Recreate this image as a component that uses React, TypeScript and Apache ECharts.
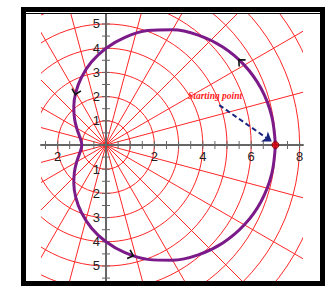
import React, { useEffect, useRef } from "react";
import * as echarts from "echarts";

// Axis ranges (data units)
const X_MIN = -2.686;
const X_MAX = 8.14;
const Y_MIN = -5.62;
const Y_MAX = 5.413;

// Curve: polar angle (deg) and radius
const curveAngles = [0, 10, 20, 30, 40, 50, 60, 70, 80, 90, 100, 110, 120, 130, 140, 150, 160, 170, 180,
  190, 200, 210, 220, 230, 240, 250, 260, 270, 280, 290, 300, 310, 320, 330, 340, 350, 360];
const curveRadii = [7.0, 6.95, 6.82, 6.6, 6.3, 5.93, 5.5, 5.03, 4.52, 4.0, 3.48, 2.97, 2.5, 2.07, 1.7, 1.4, 1.18, 1.05, 1.0,
  1.05, 1.18, 1.4, 1.7, 2.07, 2.5, 2.97, 3.48, 4.0, 4.52, 5.03, 5.5, 5.93, 6.3, 6.6, 6.82, 6.95, 7.0];

// Polar grid
const gridRadii = [1, 2, 3, 4, 5, 6, 7, 8, 9, 10, 11];
const radialAngles = [0, 15, 30, 45, 60, 75, 90, 105, 120, 135, 150, 165, 180, 195, 210, 225, 240, 255, 270, 285, 300, 315, 330, 345];

// Tick labels
const xLabelValues = [-2, 2, 4, 6, 8];
const yLabelValues = [-5, -4, -3, -2, -1, 1, 2, 3, 4, 5];
const TICK_STEP = 0.5;

// Direction arrows on the curve: polar angle, radius, travel direction (deg)
const arrowAngles = [120, 32, 283];
const arrowRadii = [2.5, 6.54, 4.67];
const arrowDirections = [-104, 136, -19];

// Starting point and annotation arrow
const startPoint = [7, 0];
const annotationFrom = [4.68, 1.65];
const annotationTo = [6.85, 0.14];
const annotationText = "Starting point";

const GRID_COLOR = "#ff2626";
const AXIS_COLOR = "#666666";
const CURVE_COLOR = "#7b1a88";

const GRID_W = 262;
const GRID_H = 267;

const rad = (d: number) => (d * Math.PI) / 180;

function buildTicks(min: number, max: number) {
  const out: number[] = [];
  for (let v = Math.ceil(min / TICK_STEP) * TICK_STEP; v <= max; v += TICK_STEP) {
    out.push(Math.round(v * 100) / 100);
  }
  return out;
}

export default function App() {
  const ref = useRef<HTMLDivElement>(null);

  useEffect(() => {
    document.body.style.margin = "0";
    if (!ref.current) return;
    const chart = echarts.init(ref.current, null, { renderer: "svg" });

    const curveData = curveAngles.map((a, i) => [curveRadii[i] * Math.cos(rad(a)), curveRadii[i] * Math.sin(rad(a))]);
    const arrowData = arrowAngles.map((a, i) => [arrowRadii[i] * Math.cos(rad(a)), arrowRadii[i] * Math.sin(rad(a)), arrowDirections[i]]);
    const xTicks = buildTicks(X_MIN, X_MAX).map((v) => [v, 0]);
    const yTicks = buildTicks(Y_MIN, Y_MAX).map((v) => [0, v]);

    // move axes onto the zero lines
    const xAxisOffset = -((0 - Y_MIN) / (Y_MAX - Y_MIN)) * GRID_H;
    const yAxisOffset = -((0 - X_MIN) / (X_MAX - X_MIN)) * GRID_W;

    const labelFont = {
      color: "#222",
      fontSize: 13,
      fontFamily: "Liberation Sans",
      formatter: (v: number) => (v === 0 ? "" : String(Math.abs(v))),
    };

    const option: any = {
      animation: false,
      backgroundColor: "#ffffff",
      grid: { left: 41, top: 14, width: GRID_W, height: GRID_H },
      xAxis: {
        type: "value",
        min: X_MIN,
        max: X_MAX,
        position: "bottom",
        offset: xAxisOffset,
        z: 3,
        axisLine: { onZero: false, lineStyle: { color: AXIS_COLOR, width: 2 } },
        axisTick: { show: false },
        splitLine: { show: false },
        axisLabel: { ...labelFont, customValues: xLabelValues, margin: 5 },
      },
      yAxis: {
        type: "value",
        min: Y_MIN,
        max: Y_MAX,
        position: "left",
        offset: yAxisOffset,
        z: 3,
        axisLine: { onZero: false, lineStyle: { color: AXIS_COLOR, width: 2 } },
        axisTick: { show: false },
        splitLine: { show: false },
        axisLabel: { ...labelFont, customValues: yLabelValues, margin: 6 },
      },
      series: [
        {
          type: "custom",
          clip: true,
          silent: true,
          z: 1,
          data: gridRadii.map((r) => [r]),
          renderItem: (params: any, api: any) => {
            const c = api.coord([0, 0]);
            const r = api.size([api.value(0), 0])[0];
            return {
              type: "circle",
              shape: { cx: c[0], cy: c[1], r },
              style: { fill: "none", stroke: GRID_COLOR, lineWidth: 1 },
            };
          },
        },
        {
          type: "custom",
          clip: true,
          silent: true,
          z: 1,
          data: radialAngles.map((a) => [a]),
          renderItem: (params: any, api: any) => {
            const a = rad(api.value(0));
            const c = api.coord([0, 0]);
            const e = api.coord([12 * Math.cos(a), 12 * Math.sin(a)]);
            return {
              type: "line",
              shape: { x1: c[0], y1: c[1], x2: e[0], y2: e[1] },
              style: { stroke: GRID_COLOR, lineWidth: 1 },
            };
          },
        },
        {
          type: "custom",
          clip: true,
          silent: true,
          z: 4,
          data: xTicks,
          renderItem: (params: any, api: any) => {
            const p = api.coord([api.value(0), 0]);
            return {
              type: "line",
              shape: { x1: p[0], y1: p[1] - 4, x2: p[0], y2: p[1] + 4 },
              style: { stroke: AXIS_COLOR, lineWidth: 1 },
            };
          },
        },
        {
          type: "custom",
          clip: true,
          silent: true,
          z: 4,
          data: yTicks,
          renderItem: (params: any, api: any) => {
            const p = api.coord([0, api.value(1)]);
            return {
              type: "line",
              shape: { x1: p[0] - 4, y1: p[1], x2: p[0] + 4, y2: p[1] },
              style: { stroke: AXIS_COLOR, lineWidth: 1 },
            };
          },
        },
        {
          type: "line",
          data: curveData,
          smooth: 0.35,
          showSymbol: false,
          z: 5,
          lineStyle: { color: CURVE_COLOR, width: 3 },
        },
        {
          type: "custom",
          clip: true,
          silent: true,
          z: 6,
          data: arrowData,
          renderItem: (params: any, api: any) => {
            const p = api.coord([api.value(0), api.value(1)]);
            const d = rad(api.value(2));
            const ux = Math.cos(d);
            const uy = -Math.sin(d);
            const px = -uy;
            const py = ux;
            const L = 5;
            const W = 4.6;
            const vx = p[0] + ux * 2;
            const vy = p[1] + uy * 2;
            return {
              type: "polyline",
              shape: {
                points: [
                  [vx - ux * L + px * W, vy - uy * L + py * W],
                  [vx, vy],
                  [vx - ux * L - px * W, vy - uy * L - py * W],
                ],
              },
              style: { fill: "none", stroke: "#111", lineWidth: 1.6 },
            };
          },
        },
        {
          type: "lines",
          coordinateSystem: "cartesian2d",
          z: 7,
          symbol: ["none", "arrow"],
          symbolSize: 9,
          lineStyle: { color: "#1a2580", width: 2, type: [5, 3], opacity: 1 },
          data: [{ coords: [annotationFrom, annotationTo] }],
        },
        {
          type: "scatter",
          z: 8,
          data: [startPoint],
          symbolSize: 7,
          itemStyle: { color: "#e00000", borderColor: "#700000", borderWidth: 1 },
        },
      ],
      graphic: [
        {
          type: "text",
          z: 100,
          x: 188,
          y: 96,
          style: {
            text: annotationText,
            fill: "#ff2020",
            fontSize: 9.5,
            fontStyle: "italic",
            fontWeight: "bold",
            fontFamily: "Liberation Serif",
            verticalAlign: "middle",
          },
        },
        {
          type: "rect",
          z: 100,
          shape: { x: 23.5, y: 9.5, width: 299, height: 274 },
          style: { fill: "none", stroke: "#000", lineWidth: 5 },
        },
        {
          type: "line",
          z: 100,
          shape: { x1: 26, y1: 13.5, x2: 320, y2: 13.5 },
          style: { stroke: "#000", lineWidth: 1.2 },
        },
      ],
    };

    chart.setOption(option);
    return () => chart.dispose();
  }, []);

  return <div ref={ref} style={{ width: 334, height: 301, background: "#fff" }} />;
}
